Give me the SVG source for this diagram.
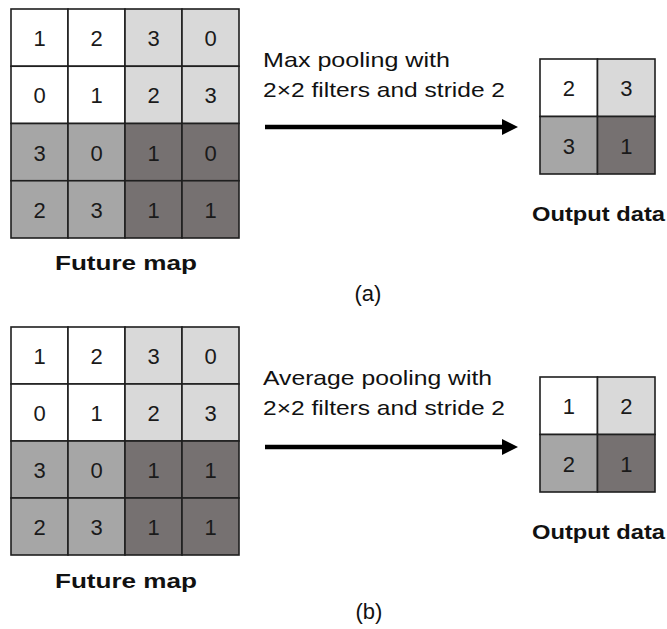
<svg xmlns="http://www.w3.org/2000/svg" width="667" height="629" viewBox="0 0 667 629">
  <style>
    .cell { stroke: #1f1f1f; stroke-width: 1.6; }
    .w { fill: #ffffff; }
    .l { fill: #d9d9d9; }
    .m { fill: #a6a6a6; }
    .d { fill: #767171; }
    .num { font-family: "Liberation Sans", Arial, sans-serif; font-size: 22px; fill: #1a1a1a; text-anchor: middle; }
    .cap { font-family: "Liberation Sans", Arial, sans-serif; font-size: 21px; fill: #111111; }
    .title { font-family: "Liberation Sans", Arial, sans-serif; font-size: 21px; font-weight: bold; fill: #111111; }
    .tag { font-family: "Liberation Sans", Arial, sans-serif; font-size: 22px; fill: #111111; text-anchor: middle; }
    .conn { stroke: #000000; stroke-width: 4.5; fill: none; }
  </style>
  <defs>
    <marker id="head" viewBox="0 0 16 16" markerWidth="16" markerHeight="16" refX="2" refY="8" orient="auto" markerUnits="userSpaceOnUse">
      <path d="M0,0 L16,8 L0,16 z" fill="#000000"/>
    </marker>
  </defs>

  <!-- (a) 4x4 feature map -->
  <g id="feature-map-a">
    <rect class="cell w" x="11" y="9" width="57" height="57.25"/>
    <rect class="cell w" x="68" y="9" width="57" height="57.25"/>
    <rect class="cell l" x="125" y="9" width="57" height="57.25"/>
    <rect class="cell l" x="182" y="9" width="57" height="57.25"/>
    <rect class="cell w" x="11" y="66.25" width="57" height="57.25"/>
    <rect class="cell w" x="68" y="66.25" width="57" height="57.25"/>
    <rect class="cell l" x="125" y="66.25" width="57" height="57.25"/>
    <rect class="cell l" x="182" y="66.25" width="57" height="57.25"/>
    <rect class="cell m" x="11" y="123.5" width="57" height="57.25"/>
    <rect class="cell m" x="68" y="123.5" width="57" height="57.25"/>
    <rect class="cell d" x="125" y="123.5" width="57" height="57.25"/>
    <rect class="cell d" x="182" y="123.5" width="57" height="57.25"/>
    <rect class="cell m" x="11" y="180.75" width="57" height="57.25"/>
    <rect class="cell m" x="68" y="180.75" width="57" height="57.25"/>
    <rect class="cell d" x="125" y="180.75" width="57" height="57.25"/>
    <rect class="cell d" x="182" y="180.75" width="57" height="57.25"/>
    <text class="num" x="39.5" y="46">1</text>
    <text class="num" x="96.5" y="46">2</text>
    <text class="num" x="153.5" y="46">3</text>
    <text class="num" x="210.5" y="46">0</text>
    <text class="num" x="39.5" y="103">0</text>
    <text class="num" x="96.5" y="103">1</text>
    <text class="num" x="153.5" y="103">2</text>
    <text class="num" x="210.5" y="103">3</text>
    <text class="num" x="39.5" y="160.5">3</text>
    <text class="num" x="96.5" y="160.5">0</text>
    <text class="num" x="153.5" y="160.5">1</text>
    <text class="num" x="210.5" y="160.5">0</text>
    <text class="num" x="39.5" y="217.5">2</text>
    <text class="num" x="96.5" y="217.5">3</text>
    <text class="num" x="153.5" y="217.5">1</text>
    <text class="num" x="210.5" y="217.5">1</text>
    <text class="title" x="55" y="270" textLength="142" lengthAdjust="spacingAndGlyphs">Future map</text>
  </g>

  <!-- (a) max pooling output -->
  <g id="output-a">
    <rect class="cell w" x="540" y="59" width="57.5" height="57.5"/>
    <rect class="cell l" x="597.5" y="59" width="57.5" height="57.5"/>
    <rect class="cell m" x="540" y="116.5" width="57.5" height="57.5"/>
    <rect class="cell d" x="597.5" y="116.5" width="57.5" height="57.5"/>
    <text class="num" x="568.75" y="96">2</text>
    <text class="num" x="626.25" y="96">3</text>
    <text class="num" x="568.75" y="153.5">3</text>
    <text class="num" x="626.25" y="153.5">1</text>
    <text class="title" x="532" y="221" textLength="133" lengthAdjust="spacingAndGlyphs">Output data</text>
  </g>

  <g id="label-a">
    <text class="cap" x="263" y="67" textLength="187" lengthAdjust="spacingAndGlyphs">Max pooling with</text>
    <text class="cap" x="263" y="97" textLength="242" lengthAdjust="spacingAndGlyphs">2×2 filters and stride 2</text>
    <text class="tag" x="368" y="301">(a)</text>
  </g>

  <!-- (b) 4x4 feature map -->
  <g id="feature-map-b">
    <rect class="cell w" x="11" y="327" width="57" height="57"/>
    <rect class="cell w" x="68" y="327" width="57" height="57"/>
    <rect class="cell l" x="125" y="327" width="57" height="57"/>
    <rect class="cell l" x="182" y="327" width="57" height="57"/>
    <rect class="cell w" x="11" y="384" width="57" height="57"/>
    <rect class="cell w" x="68" y="384" width="57" height="57"/>
    <rect class="cell l" x="125" y="384" width="57" height="57"/>
    <rect class="cell l" x="182" y="384" width="57" height="57"/>
    <rect class="cell m" x="11" y="441" width="57" height="57"/>
    <rect class="cell m" x="68" y="441" width="57" height="57"/>
    <rect class="cell d" x="125" y="441" width="57" height="57"/>
    <rect class="cell d" x="182" y="441" width="57" height="57"/>
    <rect class="cell m" x="11" y="498" width="57" height="57"/>
    <rect class="cell m" x="68" y="498" width="57" height="57"/>
    <rect class="cell d" x="125" y="498" width="57" height="57"/>
    <rect class="cell d" x="182" y="498" width="57" height="57"/>
    <text class="num" x="39.5" y="364">1</text>
    <text class="num" x="96.5" y="364">2</text>
    <text class="num" x="153.5" y="364">3</text>
    <text class="num" x="210.5" y="364">0</text>
    <text class="num" x="39.5" y="421">0</text>
    <text class="num" x="96.5" y="421">1</text>
    <text class="num" x="153.5" y="421">2</text>
    <text class="num" x="210.5" y="421">3</text>
    <text class="num" x="39.5" y="478">3</text>
    <text class="num" x="96.5" y="478">0</text>
    <text class="num" x="153.5" y="478">1</text>
    <text class="num" x="210.5" y="478">1</text>
    <text class="num" x="39.5" y="535">2</text>
    <text class="num" x="96.5" y="535">3</text>
    <text class="num" x="153.5" y="535">1</text>
    <text class="num" x="210.5" y="535">1</text>
    <text class="title" x="55" y="588" textLength="142" lengthAdjust="spacingAndGlyphs">Future map</text>
  </g>

  <!-- (b) average pooling output -->
  <g id="output-b">
    <rect class="cell w" x="540" y="377" width="57.5" height="57.5"/>
    <rect class="cell l" x="597.5" y="377" width="57.5" height="57.5"/>
    <rect class="cell m" x="540" y="434.5" width="57.5" height="57.5"/>
    <rect class="cell d" x="597.5" y="434.5" width="57.5" height="57.5"/>
    <text class="num" x="568.75" y="414">1</text>
    <text class="num" x="626.25" y="414">2</text>
    <text class="num" x="568.75" y="471.5">2</text>
    <text class="num" x="626.25" y="471.5">1</text>
    <text class="title" x="532" y="539" textLength="133" lengthAdjust="spacingAndGlyphs">Output data</text>
  </g>

  <g id="label-b">
    <text class="cap" x="263" y="385" textLength="229" lengthAdjust="spacingAndGlyphs">Average pooling with</text>
    <text class="cap" x="263" y="415" textLength="242" lengthAdjust="spacingAndGlyphs">2×2 filters and stride 2</text>
    <text class="tag" x="369" y="619">(b)</text>
  </g>

  <!-- pooling arrows -->
  <g id="connectors">
    <line class="conn" x1="265" y1="127" x2="504" y2="127" marker-end="url(#head)"/>
    <line class="conn" x1="265" y1="447" x2="504" y2="447" marker-end="url(#head)"/>
  </g>
</svg>
